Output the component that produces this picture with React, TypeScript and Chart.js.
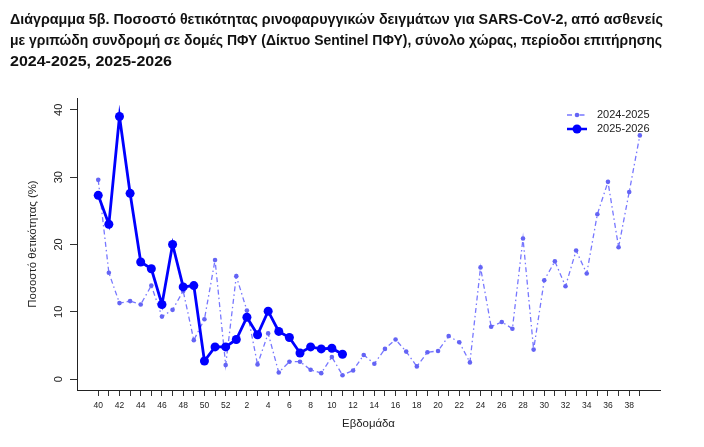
import React, { useEffect, useLayoutEffect, useRef } from 'react';
import { Chart, registerables } from 'chart.js';

Chart.register(...registerables);

const titleLines = [
  'Διάγραμμα 5β. Ποσοστό θετικότητας ρινοφαρυγγικών δειγμάτων για SARS-CoV-2, από ασθενείς',
  'με γριπώδη συνδρομή σε δομές ΠΦΥ (Δίκτυο Sentinel ΠΦΥ), σύνολο χώρας, περίοδοι επιτήρησης',
  '2024-2025, 2025-2026',
];
const titleWidths = [653, 652, 162];

const weeks = [
  40, 41, 42, 43, 44, 45, 46, 47, 48, 49, 50, 51, 52,
  1, 2, 3, 4, 5, 6, 7, 8, 9, 10, 11, 12, 13, 14, 15, 16, 17, 18, 19, 20,
  21, 22, 23, 24, 25, 26, 27, 28, 29, 30, 31, 32, 33, 34, 35, 36, 37, 38, 39,
];

const season2425 = [
  29.6, 15.8, 11.3, 11.6, 11.1, 13.9, 9.3, 10.3, 13.1, 5.8, 8.9, 17.7, 2.1,
  15.3, 10.2, 2.2, 6.8, 1.0, 2.6, 2.6, 1.4, 0.9, 3.3, 0.6, 1.3, 3.6, 2.3, 4.5, 5.9, 4.1, 1.9, 4.0, 4.2,
  6.4, 5.5, 2.5, 16.6, 7.8, 8.5, 7.5, 20.9, 4.4, 14.7, 17.5, 13.8, 19.1, 15.7, 24.5, 29.3, 19.6, 27.8, 36.2,
];

const season2526 = [
  27.3, 23.0, 39.0, 27.6, 17.4, 16.4, 11.1, 20.0, 13.7, 13.9, 2.7, 4.8, 4.8,
  5.9, 9.2, 6.6, 10.1, 7.1, 6.2, 3.9, 4.8, 4.5, 4.6, 3.7,
];

const yTicks = [0, 10, 20, 30, 40];
const seriesLabels = ['2024-2025', '2025-2026'];
const xTitle = 'Εβδομάδα';
const yTitle = 'Ποσοστό θετικότητας (%)';

const COLOR_OLD = '#7777ff';
const COLOR_OLD_PT = '#6464f5';
const COLOR_NEW = '#0000ff';
const DASH = [5, 3, 1.5, 3];
const FONT = '"Liberation Sans", Arial, sans-serif';

const overlayPlugin = {
  id: 'overlay',
  afterDraw(chart: any) {
    const ctx = chart.ctx as CanvasRenderingContext2D;
    const area = chart.chartArea;
    const ys = chart.scales.y;
    ctx.save();
    ctx.fillStyle = '#222';
    ctx.textAlign = 'center';
    ctx.textBaseline = 'middle';
    ctx.font = `11px ${FONT}`;
    yTicks.forEach((v) => {
      const py = ys.getPixelForValue(v);
      ctx.save();
      ctx.translate(area.left - 18.5, py);
      ctx.rotate(-Math.PI / 2);
      ctx.fillText(String(v), 0, 0);
      ctx.restore();
    });
    ctx.font = `11.4px ${FONT}`;
    ctx.save();
    ctx.translate(33, (area.top + area.bottom) / 2);
    ctx.rotate(-Math.PI / 2);
    ctx.fillText(yTitle, 0, 0);
    ctx.restore();
    ctx.fillText(xTitle, (area.left + area.right) / 2, 424);

    // legend
    const lx0 = 567, lx1 = 587, tx = 597;
    const rows = [115, 129];
    ctx.font = `11px ${FONT}`;
    ctx.textAlign = 'left';
    ctx.strokeStyle = COLOR_OLD;
    ctx.lineWidth = 1.3;
    ctx.setLineDash(DASH);
    ctx.beginPath();
    ctx.moveTo(lx0, rows[0]);
    ctx.lineTo(lx1, rows[0]);
    ctx.stroke();
    ctx.setLineDash([]);
    ctx.fillStyle = COLOR_OLD_PT;
    ctx.beginPath();
    ctx.arc((lx0 + lx1) / 2, rows[0], 2.3, 0, Math.PI * 2);
    ctx.fill();
    ctx.strokeStyle = COLOR_NEW;
    ctx.lineWidth = 2.5;
    ctx.beginPath();
    ctx.moveTo(lx0, rows[1]);
    ctx.lineTo(lx1, rows[1]);
    ctx.stroke();
    ctx.fillStyle = COLOR_NEW;
    ctx.beginPath();
    ctx.arc((lx0 + lx1) / 2, rows[1], 4.5, 0, Math.PI * 2);
    ctx.fill();
    ctx.fillStyle = '#222';
    ctx.fillText(seriesLabels[0], tx, rows[0]);
    ctx.fillText(seriesLabels[1], tx, rows[1]);
    ctx.restore();
  },
};

export default function App() {
  const canvasRef = useRef<HTMLCanvasElement | null>(null);
  const lineRefs = useRef<(HTMLSpanElement | null)[]>([]);

  useLayoutEffect(() => {
    lineRefs.current.forEach((el, i) => {
      if (!el) return;
      const w = el.getBoundingClientRect().width;
      if (w > 0) el.style.transform = `scaleX(${titleWidths[i] / w})`;
    });
  }, []);

  useEffect(() => {
    if (!canvasRef.current) return;
    const chart = new Chart(canvasRef.current, {
      type: 'line',
      data: {
        datasets: [
          {
            label: seriesLabels[0],
            data: season2425.map((v, i) => ({ x: i, y: v })),
            borderColor: COLOR_OLD,
            borderWidth: 1.3,
            borderDash: DASH,
            pointRadius: 2.3,
            pointBackgroundColor: COLOR_OLD_PT,
            pointBorderColor: COLOR_OLD_PT,
            pointBorderWidth: 0,
            tension: 0,
            order: 2,
          },
          {
            label: seriesLabels[1],
            data: season2526.map((v, i) => ({ x: i, y: v })),
            borderColor: COLOR_NEW,
            borderWidth: 2.8,
            pointRadius: 4.5,
            pointBackgroundColor: COLOR_NEW,
            pointBorderColor: COLOR_NEW,
            pointBorderWidth: 0,
            tension: 0,
            order: 1,
          },
        ],
      },
      options: {
        responsive: false,
        animation: false,
        events: [],
        layout: { padding: { left: 0, right: 44, top: 98, bottom: 0 } },
        plugins: { legend: { display: false }, tooltip: { enabled: false }, title: { display: false } },
        scales: {
          x: {
            type: 'linear',
            min: -2,
            max: 52.9,
            afterBuildTicks: (s: any) => {
              s.ticks = weeks.map((_, i) => ({ value: i }));
            },
            afterFit: (s: any) => {
              s.height = 57;
            },
            grid: { display: true, drawOnChartArea: false, drawTicks: true, tickLength: 6, color: '#333' },
            border: { display: true, color: '#222', width: 1 },
            ticks: {
              autoSkip: false,
              maxRotation: 0,
              minRotation: 0,
              padding: 5,
              color: '#222',
              font: { family: FONT, size: 8.5 },
              callback: (v: any) => {
                const w = weeks[Number(v)];
                return w !== undefined && w % 2 === 0 ? String(w) : '';
              },
            },
          },
          y: {
            type: 'linear',
            min: -1.6,
            max: 41.75,
            afterBuildTicks: (s: any) => {
              s.ticks = yTicks.map((v) => ({ value: v }));
            },
            afterFit: (s: any) => {
              s.width = 77;
            },
            grid: { display: true, drawOnChartArea: false, drawTicks: true, tickLength: 7, color: '#333' },
            border: { display: true, color: '#222', width: 1 },
            ticks: { display: false },
          },
        },
      },
      plugins: [overlayPlugin],
    });
    return () => chart.destroy();
  }, []);

  return (
    <div style={{ position: 'fixed', left: 0, top: 0, width: 704, height: 447, background: '#fff', overflow: 'hidden' }}>
      <canvas ref={canvasRef} width={704} height={447} style={{ position: 'absolute', left: 0, top: 0 }} />
      {titleLines.map((t, i) => (
        <div
          key={i}
          style={{ position: 'absolute', left: 10, top: 9 + i * 20.8, height: 20, lineHeight: '20px', whiteSpace: 'nowrap' }}
        >
          <span
            ref={(el) => {
              lineRefs.current[i] = el;
            }}
            style={{
              display: 'inline-block',
              transformOrigin: 'left center',
              fontFamily: FONT,
              fontWeight: 'bold',
              fontSize: 14.5,
              color: '#111',
            }}
          >
            {t}
          </span>
        </div>
      ))}
    </div>
  );
}
